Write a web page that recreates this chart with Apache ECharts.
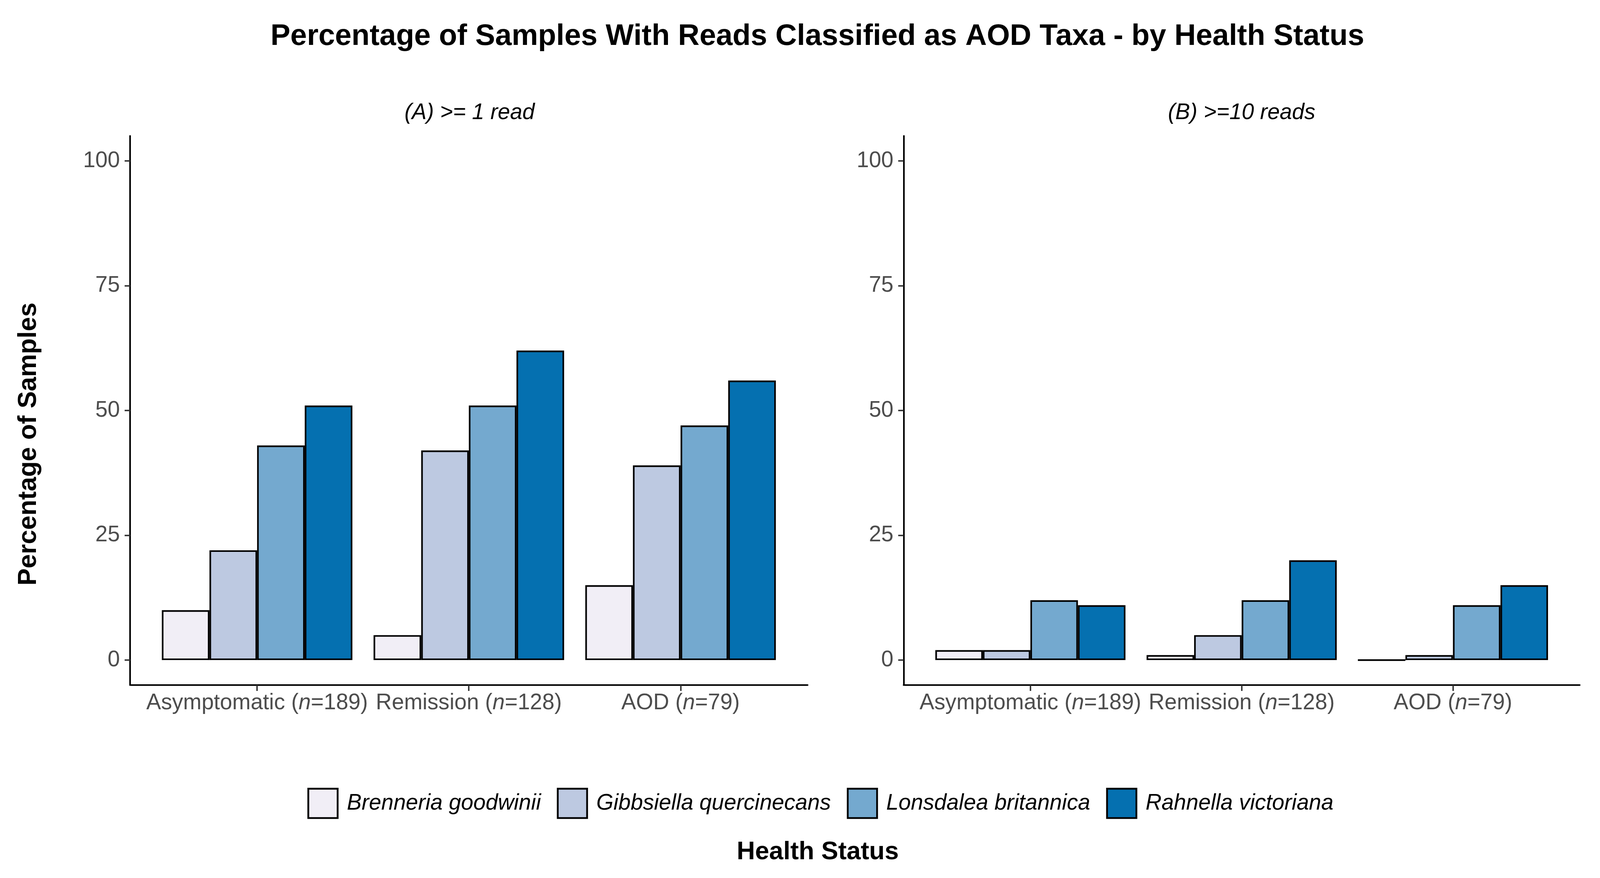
<!DOCTYPE html>
<html>
<head>
<meta charset="utf-8">
<script src="https://cdn.jsdelivr.net/npm/echarts@6/dist/echarts.min.js"></script>
<style>
  html, body { margin: 0; padding: 0; background: #fff; width: 100%; height: 100%; overflow: hidden; }
  #chart { width: 100vw; height: 100vh; }
</style>
</head>
<body>
<div id="chart"></div>
<script>
// health status groups and sample sizes
const statusNames = ['Asymptomatic', 'Remission', 'AOD'];
const statusN = [189, 128, 79];
const taxa = ['Brenneria goodwinii', 'Gibbsiella quercinecans', 'Lonsdalea britannica', 'Rahnella victoriana'];
const taxaColors = ['#f1eef6', '#bdc9e1', '#74a9cf', '#0570b0'];

// (A) >= 1 read, one array per taxon, values per health status
const brenneriaA = [10, 5, 15];
const gibbsiellaA = [22, 42, 39];
const lonsdaleaA = [43, 51, 47];
const rahnellaA = [51, 62, 56];

// (B) >= 10 reads
const brenneriaB = [2, 1, 0];
const gibbsiellaB = [2, 5, 1];
const lonsdaleaB = [12, 12, 11];
const rahnellaB = [11, 20, 15];

const yTicks = [0, 25, 50, 75, 100];
const xTicks = [1, 2, 3];

const panelA = [brenneriaA, gibbsiellaA, lonsdaleaA, rahnellaA];
const panelB = [brenneriaB, gibbsiellaB, lonsdaleaB, rahnellaB];

const FONT = "'Liberation Sans', Arial, sans-serif";

const chart = echarts.init(document.getElementById('chart'));
// layout was measured on a 4416x2248 picture, scale to whatever we get
const W = chart.getWidth(), H = chart.getHeight();
const sx = W / 4416, sy = H / 2248, sf = Math.min(sx, sy);
const px = v => v * sx, py = v => v * sy, fs = v => v * sf;

function xAxisOpt(gridIndex) {
    return {
        type: 'value',
        gridIndex: gridIndex,
        min: 0.4,
        max: 3.6,
        splitLine: { show: false },
        axisLine: { show: true, onZero: false, lineStyle: { color: '#000', width: fs(4.5) } },
        axisTick: { show: true, customValues: xTicks, length: py(15), lineStyle: { color: '#333', width: fs(4) } },
        axisLabel: {
            customValues: xTicks,
            margin: py(18),
            formatter: function (v) {
                const i = Math.round(v) - 1;
                return '{r|' + statusNames[i] + ' (}{i|n}{r|=' + statusN[i] + ')}';
            },
            rich: {
                r: { fontSize: fs(61), color: '#4d4d4d', fontFamily: FONT },
                i: { fontSize: fs(61), color: '#4d4d4d', fontFamily: FONT, fontStyle: 'italic' }
            }
        }
    };
}

function yAxisOpt(gridIndex) {
    return {
        type: 'value',
        gridIndex: gridIndex,
        min: -5,
        max: 105,
        splitLine: { show: false },
        axisLine: { show: true, onZero: false, lineStyle: { color: '#000', width: fs(4.5) } },
        axisTick: { show: true, customValues: yTicks, length: px(15), lineStyle: { color: '#333', width: fs(4) } },
        axisLabel: {
            customValues: yTicks,
            margin: px(28),
            fontSize: fs(61),
            color: '#4d4d4d',
            fontFamily: FONT
        }
    };
}

let series = [];
[panelA, panelB].forEach(function (panel, p) {
    panel.forEach(function (vals, k) {
        series.push({
            type: 'bar',
            name: taxa[k],
            xAxisIndex: p,
            yAxisIndex: p,
            barGap: '0%',
            barCategoryGap: '10%',
            data: vals.map(function (v, i) { return [i + 1, v]; }),
            itemStyle: { color: taxaColors[k], borderColor: '#000', borderWidth: fs(4.5) },
            emphasis: { disabled: true }
        });
    });
});

function label(text, x, y, size, weight, style, rot) {
    return {
        type: 'text',
        x: px(x),
        y: py(y),
        rotation: rot || 0,
        style: {
            text: text,
            fontSize: fs(size),
            fontWeight: weight,
            fontStyle: style,
            fontFamily: FONT,
            fill: '#000',
            align: 'center',
            verticalAlign: 'middle',
            textAlign: 'center',
            textVerticalAlign: 'middle'
        }
    };
}

const option = {
    backgroundColor: '#fff',
    animation: false,
    grid: [
        { left: px(359), top: py(348), width: px(1870), height: py(1406), containLabel: false, outerBoundsMode: 'none' },
        { left: px(2494), top: py(348), width: px(1866), height: py(1406), containLabel: false, outerBoundsMode: 'none' }
    ],
    xAxis: [xAxisOpt(0), xAxisOpt(1)],
    yAxis: [yAxisOpt(0), yAxisOpt(1)],
    legend: {
        data: taxa,
        left: px(843),
        top: py(2012),
        orient: 'horizontal',
        icon: 'rect',
        itemWidth: fs(81),
        itemHeight: fs(81),
        itemGap: px(44),
        itemStyle: { borderColor: '#000', borderWidth: fs(5) },
        textStyle: { fontSize: fs(61), fontStyle: 'italic', color: '#000', fontFamily: FONT, padding: [0, 0, 0, px(20)] },
        selectedMode: false
    },
    graphic: [
        label('Percentage of Samples With Reads Classified as AOD Taxa - by Health Status', 2256, 94, 82, 'bold', 'normal'),
        label('(A) >= 1 read', 1296, 289, 61, 'normal', 'italic'),
        label('(B) >=10 reads', 3427, 289, 61, 'normal', 'italic'),
        label('Percentage of Samples', 80, 1137, 71, 'bold', 'normal', Math.PI / 2),
        label('Health Status', 2257, 2182, 70, 'bold', 'normal')
    ],
    series: series
};
chart.setOption(option);
</script>
</body>
</html>
